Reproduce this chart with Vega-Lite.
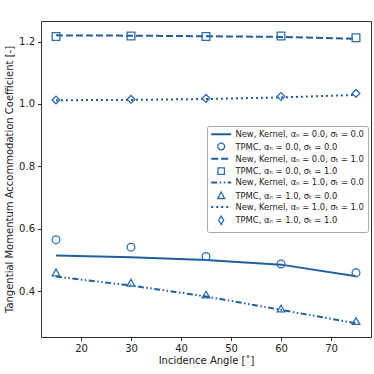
{
  "$schema": "https://vega.github.io/schema/vega-lite/v6.json",
  "width": 330,
  "height": 316,
  "autosize": "none",
  "padding": {"left": 41, "top": 21, "right": 3, "bottom": 37},
  "background": "white",
  "config": {
    "font": "DejaVu Sans",
    "view": {"stroke": "#333333", "strokeWidth": 1},
    "axis": {"grid": false, "domain": false, "tickColor": "#333333", "tickSize": 3.5, "labelColor": "#222222", "titleColor": "#222222", "labelFontSize": 10, "titleFontSize": 10, "titleFontWeight": "normal", "labelPadding": 3}
  },
  "data": {"values": [
    {"angle": 15, "series": "New, Kernel, αₙ = 0.0, σₜ = 0.0", "value": 0.514},
    {"angle": 30, "series": "New, Kernel, αₙ = 0.0, σₜ = 0.0", "value": 0.509},
    {"angle": 45, "series": "New, Kernel, αₙ = 0.0, σₜ = 0.0", "value": 0.500},
    {"angle": 60, "series": "New, Kernel, αₙ = 0.0, σₜ = 0.0", "value": 0.485},
    {"angle": 75, "series": "New, Kernel, αₙ = 0.0, σₜ = 0.0", "value": 0.448},
    {"angle": 15, "series": "TPMC, αₙ = 0.0, σₜ = 0.0", "value": 0.565},
    {"angle": 30, "series": "TPMC, αₙ = 0.0, σₜ = 0.0", "value": 0.541},
    {"angle": 45, "series": "TPMC, αₙ = 0.0, σₜ = 0.0", "value": 0.511},
    {"angle": 60, "series": "TPMC, αₙ = 0.0, σₜ = 0.0", "value": 0.487},
    {"angle": 75, "series": "TPMC, αₙ = 0.0, σₜ = 0.0", "value": 0.459},
    {"angle": 15, "series": "New, Kernel, αₙ = 0.0, σₜ = 1.0", "value": 1.220},
    {"angle": 30, "series": "New, Kernel, αₙ = 0.0, σₜ = 1.0", "value": 1.219},
    {"angle": 45, "series": "New, Kernel, αₙ = 0.0, σₜ = 1.0", "value": 1.217},
    {"angle": 60, "series": "New, Kernel, αₙ = 0.0, σₜ = 1.0", "value": 1.215},
    {"angle": 75, "series": "New, Kernel, αₙ = 0.0, σₜ = 1.0", "value": 1.209},
    {"angle": 15, "series": "TPMC, αₙ = 0.0, σₜ = 1.0", "value": 1.216},
    {"angle": 30, "series": "TPMC, αₙ = 0.0, σₜ = 1.0", "value": 1.218},
    {"angle": 45, "series": "TPMC, αₙ = 0.0, σₜ = 1.0", "value": 1.216},
    {"angle": 60, "series": "TPMC, αₙ = 0.0, σₜ = 1.0", "value": 1.218},
    {"angle": 75, "series": "TPMC, αₙ = 0.0, σₜ = 1.0", "value": 1.212},
    {"angle": 15, "series": "New, Kernel, αₙ = 1.0, σₜ = 0.0", "value": 0.447},
    {"angle": 30, "series": "New, Kernel, αₙ = 1.0, σₜ = 0.0", "value": 0.418},
    {"angle": 45, "series": "New, Kernel, αₙ = 1.0, σₜ = 0.0", "value": 0.383},
    {"angle": 60, "series": "New, Kernel, αₙ = 1.0, σₜ = 0.0", "value": 0.340},
    {"angle": 75, "series": "New, Kernel, αₙ = 1.0, σₜ = 0.0", "value": 0.297},
    {"angle": 15, "series": "TPMC, αₙ = 1.0, σₜ = 0.0", "value": 0.460},
    {"angle": 30, "series": "TPMC, αₙ = 1.0, σₜ = 0.0", "value": 0.427},
    {"angle": 45, "series": "TPMC, αₙ = 1.0, σₜ = 0.0", "value": 0.389},
    {"angle": 60, "series": "TPMC, αₙ = 1.0, σₜ = 0.0", "value": 0.344},
    {"angle": 75, "series": "TPMC, αₙ = 1.0, σₜ = 0.0", "value": 0.304},
    {"angle": 15, "series": "New, Kernel, αₙ = 1.0, σₜ = 1.0", "value": 1.012},
    {"angle": 30, "series": "New, Kernel, αₙ = 1.0, σₜ = 1.0", "value": 1.013},
    {"angle": 45, "series": "New, Kernel, αₙ = 1.0, σₜ = 1.0", "value": 1.016},
    {"angle": 60, "series": "New, Kernel, αₙ = 1.0, σₜ = 1.0", "value": 1.021},
    {"angle": 75, "series": "New, Kernel, αₙ = 1.0, σₜ = 1.0", "value": 1.029},
    {"angle": 15, "series": "TPMC, αₙ = 1.0, σₜ = 1.0", "value": 1.013},
    {"angle": 30, "series": "TPMC, αₙ = 1.0, σₜ = 1.0", "value": 1.015},
    {"angle": 45, "series": "TPMC, αₙ = 1.0, σₜ = 1.0", "value": 1.018},
    {"angle": 60, "series": "TPMC, αₙ = 1.0, σₜ = 1.0", "value": 1.024},
    {"angle": 75, "series": "TPMC, αₙ = 1.0, σₜ = 1.0", "value": 1.034}
  ]},
  "encoding": {
    "x": {"field": "angle", "type": "quantitative", "scale": {"domain": [12, 78], "nice": false, "zero": false}, "axis": {"values": [20, 30, 40, 50, 60, 70], "title": "Incidence Angle [˚]", "titlePadding": 2}},
    "y": {"field": "value", "type": "quantitative", "scale": {"domain": [0.253, 1.266], "nice": false, "zero": false}, "axis": {"values": [0.4, 0.6, 0.8, 1.0, 1.2], "format": ".1f", "title": "Tangential Momentum Accommodation Coefficient [-]", "titlePadding": 4}},
    "color": {
      "field": "series", "type": "nominal",
      "scale": {
        "domain": ["New, Kernel, αₙ = 0.0, σₜ = 0.0", "TPMC, αₙ = 0.0, σₜ = 0.0", "New, Kernel, αₙ = 0.0, σₜ = 1.0", "TPMC, αₙ = 0.0, σₜ = 1.0", "New, Kernel, αₙ = 1.0, σₜ = 0.0", "TPMC, αₙ = 1.0, σₜ = 0.0", "New, Kernel, αₙ = 1.0, σₜ = 1.0", "TPMC, αₙ = 1.0, σₜ = 1.0"],
        "range": ["#1f5fa0", "#2a6cb0", "#1f5fa0", "#2a6cb0", "#1f5fa0", "#2a6cb0", "#1f5fa0", "#2a6cb0"]
      },
      "legend": {
        "title": null,
        "orient": "none",
        "legendX": 166,
        "legendY": 105,
        "padding": 4,
        "fillColor": "white",
        "strokeColor": "#aaaaaa",
        "cornerRadius": 2,
        "labelFontSize": 8.4,
        "labelColor": "#222222",
        "labelLimit": 200,
        "symbolSize": 400,
        "symbolOffset": 6,
        "symbolFillColor": "transparent",
        "rowPadding": 1.3,
        "labelOffset": 10,
        "encode": {
          "symbols": {
            "update": {
              "shape": {"signal": "['M-1,0H1','M-0.34,0A0.34,0.34,0,1,0,0.34,0A0.34,0.34,0,1,0,-0.34,0Z','M-1,0H1','M-0.32,-0.32H0.32V0.32H-0.32Z','M-1,0H1','M0,-0.38L0.34,0.28L-0.34,0.28Z','M-1,0H1','M0,-0.42L0.25,0L0,0.42L-0.25,0Z'][indexof(domain('color'), datum.value)]"},
              "strokeDash": {"signal": "[[1,0],[1,0],[7,3],[1,0],[6,2.5,1.5,2.5,1.5,2.5],[1,0],[2,3],[1,0]][indexof(domain('color'), datum.value)]"},
              "strokeWidth": {"signal": "indexof(domain('color'), datum.value) % 2 == 0 ? 2 : 1.3"},
              "fill": {"value": "transparent"}
            }
          }
        }
      }
    }
  },
  "layer": [
    {"transform": [{"filter": "datum.series == 'New, Kernel, αₙ = 0.0, σₜ = 0.0'"}], "mark": {"type": "line", "strokeWidth": 2}},
    {"transform": [{"filter": "datum.series == 'New, Kernel, αₙ = 0.0, σₜ = 1.0'"}], "mark": {"type": "line", "strokeWidth": 2, "strokeDash": [7, 3]}},
    {"transform": [{"filter": "datum.series == 'New, Kernel, αₙ = 1.0, σₜ = 0.0'"}], "mark": {"type": "line", "strokeWidth": 2, "strokeDash": [6, 2.5, 1.5, 2.5, 1.5, 2.5]}},
    {"transform": [{"filter": "datum.series == 'New, Kernel, αₙ = 1.0, σₜ = 1.0'"}], "mark": {"type": "line", "strokeWidth": 2, "strokeDash": [2, 3]}},
    {"transform": [{"filter": "datum.series == 'TPMC, αₙ = 0.0, σₜ = 0.0'"}], "mark": {"type": "point", "shape": "circle", "size": 60, "strokeWidth": 1.3, "filled": false, "opacity": 1}},
    {"transform": [{"filter": "datum.series == 'TPMC, αₙ = 0.0, σₜ = 1.0'"}], "mark": {"type": "point", "shape": "square", "size": 60, "strokeWidth": 1.3, "filled": false, "opacity": 1}},
    {"transform": [{"filter": "datum.series == 'TPMC, αₙ = 1.0, σₜ = 0.0'"}], "mark": {"type": "point", "shape": "triangle-up", "size": 60, "strokeWidth": 1.3, "filled": false, "opacity": 1}},
    {"transform": [{"filter": "datum.series == 'TPMC, αₙ = 1.0, σₜ = 1.0'"}], "mark": {"type": "point", "shape": "diamond", "size": 60, "strokeWidth": 1.3, "filled": false, "opacity": 1}}
  ]
}
